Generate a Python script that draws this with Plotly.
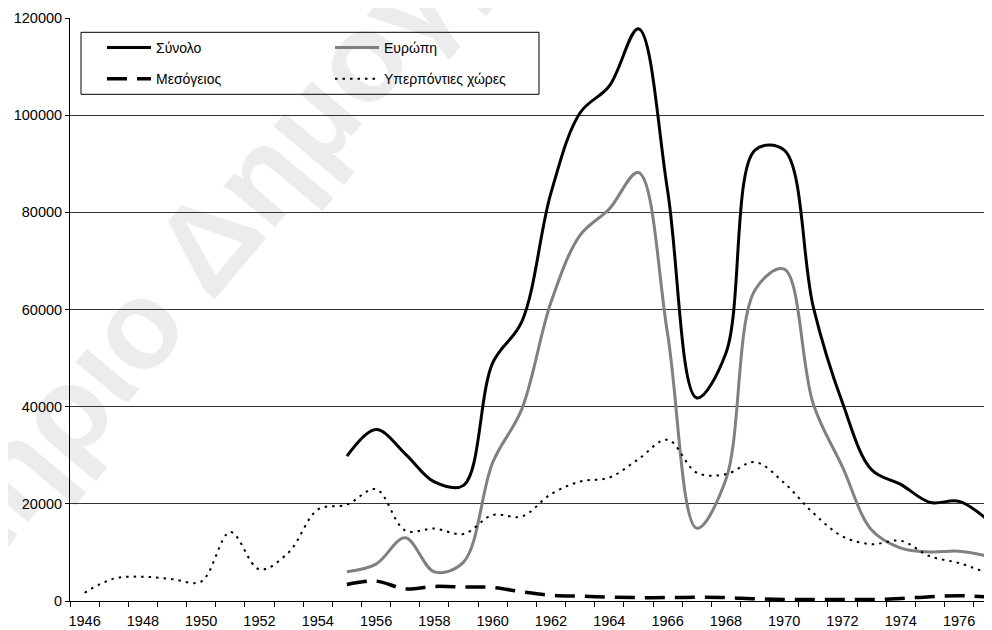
import plotly.graph_objects as go

years = list(range(1946, 1978))
tick_years = list(range(1946, 1977, 2))

synolo = [None]*9 + [29800, 35300, 30300, 24500, 23800, 49000, 57500, 84000, 100500, 106000,
                     117800, 84500, 41800, 51000, 92800, 92800, 60500, 40800, 27000, 24000,
                     20300, 20500, 16600]
evropi = [None]*9 + [6000, 7600, 13000, 6000, 8000, 28500, 39500, 61500, 75300, 80700,
                     88200, 55000, 15000, 25000, 64000, 68300, 40500, 27600, 14600, 10900,
                     10100, 10250, 9200]
mesogeios = [None]*9 + [3400, 4100, 2500, 3000, 2900, 2800, 1900, 1200, 1000, 800,
                        700, 700, 750, 700, 450, 300, 300, 300, 300, 500,
                        900, 1100, 800]
yperponties = [1700, 4600, 5000, 4500, 4000, 14200, 6500, 10000, 18800, 19850,
               23000, 14500, 14900, 13800, 17700, 17400, 22000, 24600, 25400, 29200,
               33200, 26400, 26100, 28600, 24300, 18100, 13300, 11700, 12400, 9200,
               7800, 5700]

FONT = "Liberation Sans, Arial, sans-serif"

# page offset (browser body margin) compensation: plot area in screen px
ML, MT, MB = 62, 10, 37
PW = 992 - ML           # plot width in px
PH = 630 - MT - MB      # plot height in px
X0S, Y0S = 70.0, 600.7  # screen position of plot-area left / bottom


def px(sx):
    return (sx - X0S) / PW


def py(sy):
    return (Y0S - sy) / PH


fig = go.Figure()
fig.add_trace(go.Scatter(x=years, y=synolo, name="Σύνολο", mode="lines",
                         line=dict(color="black", width=3, shape="spline", smoothing=1),
                         legend="legend", legendgroup="a"))
fig.add_trace(go.Scatter(x=years, y=mesogeios, name="Μεσόγειος", mode="lines",
                         line=dict(color="black", width=3.5, dash="20px,10px", shape="spline", smoothing=1),
                         legend="legend", legendgroup="b"))
fig.add_trace(go.Scatter(x=years, y=evropi, name="Ευρώπη", mode="lines",
                         line=dict(color="#808080", width=3, shape="spline", smoothing=1),
                         legend="legend2", legendgroup="c"))
fig.add_trace(go.Scatter(x=years, y=yperponties, name="Υπερπόντιες χώρες", mode="lines",
                         line=dict(color="black", width=2, dash="2.5px,5px", shape="spline", smoothing=1),
                         legend="legend2", legendgroup="d"))

legend_common = dict(xanchor="left", yanchor="top", bgcolor="rgba(0,0,0,0)", borderwidth=0,
                     font=dict(family=FONT, size=14, color="black"), itemwidth=44,
                     tracegroupgap=10, orientation="v")

fig.update_layout(
    width=992, height=630, autosize=False,
    margin=dict(l=ML, r=0, t=MT, b=MB, pad=0),
    paper_bgcolor="white", plot_bgcolor="white",
    font=dict(family=FONT, size=14, color="black"),
    showlegend=True,
    legend=dict(x=px(102), y=py(31.7), **legend_common),
    legend2=dict(x=px(330), y=py(31.7), **legend_common),
    xaxis=dict(range=[1945.5, 1945.5 + PW / 29.15], tickvals=tick_years,
               ticktext=[str(t) for t in tick_years],
               ticks="", showgrid=False, zeroline=False, showline=True, linecolor="black", linewidth=1,
               ticklabelstandoff=7,
               minor=dict(tick0=1945.5, dtick=1, ticks="outside", ticklen=5, tickcolor="black",
                          tickwidth=1, showgrid=False),
               tickfont=dict(family=FONT, size=14.5)),
    yaxis=dict(range=[0, 120000], dtick=20000, tick0=0, ticks="outside", ticklen=4, tickcolor="black",
               showgrid=True, gridcolor="#333333", gridwidth=1, zeroline=False, showline=True,
               linecolor="black", linewidth=1, tickformat="d", tickfont=dict(family=FONT, size=14.5)),
    shapes=[
        dict(type="rect", xref="paper", yref="paper",
             x0=px(222) - 0.005, x1=px(222) + 0.005, y0=py(204) - 0.005, y1=py(204) + 0.005,
             line=dict(width=0), fillcolor="rgba(0,0,0,0)", layer="below",
             label=dict(text="Εργαστήριο Δημογραφικών", textangle=-50, textposition="middle center",
                        font=dict(family=FONT, size=125, color="#ececec", weight="bold"))),
        dict(type="rect", xref="paper", yref="paper", x0=px(81), x1=px(539), y0=py(94), y1=py(32),
             line=dict(color="black", width=1), fillcolor="rgba(0,0,0,0)", layer="above"),
    ],
)

fig.write_html("out.html")
